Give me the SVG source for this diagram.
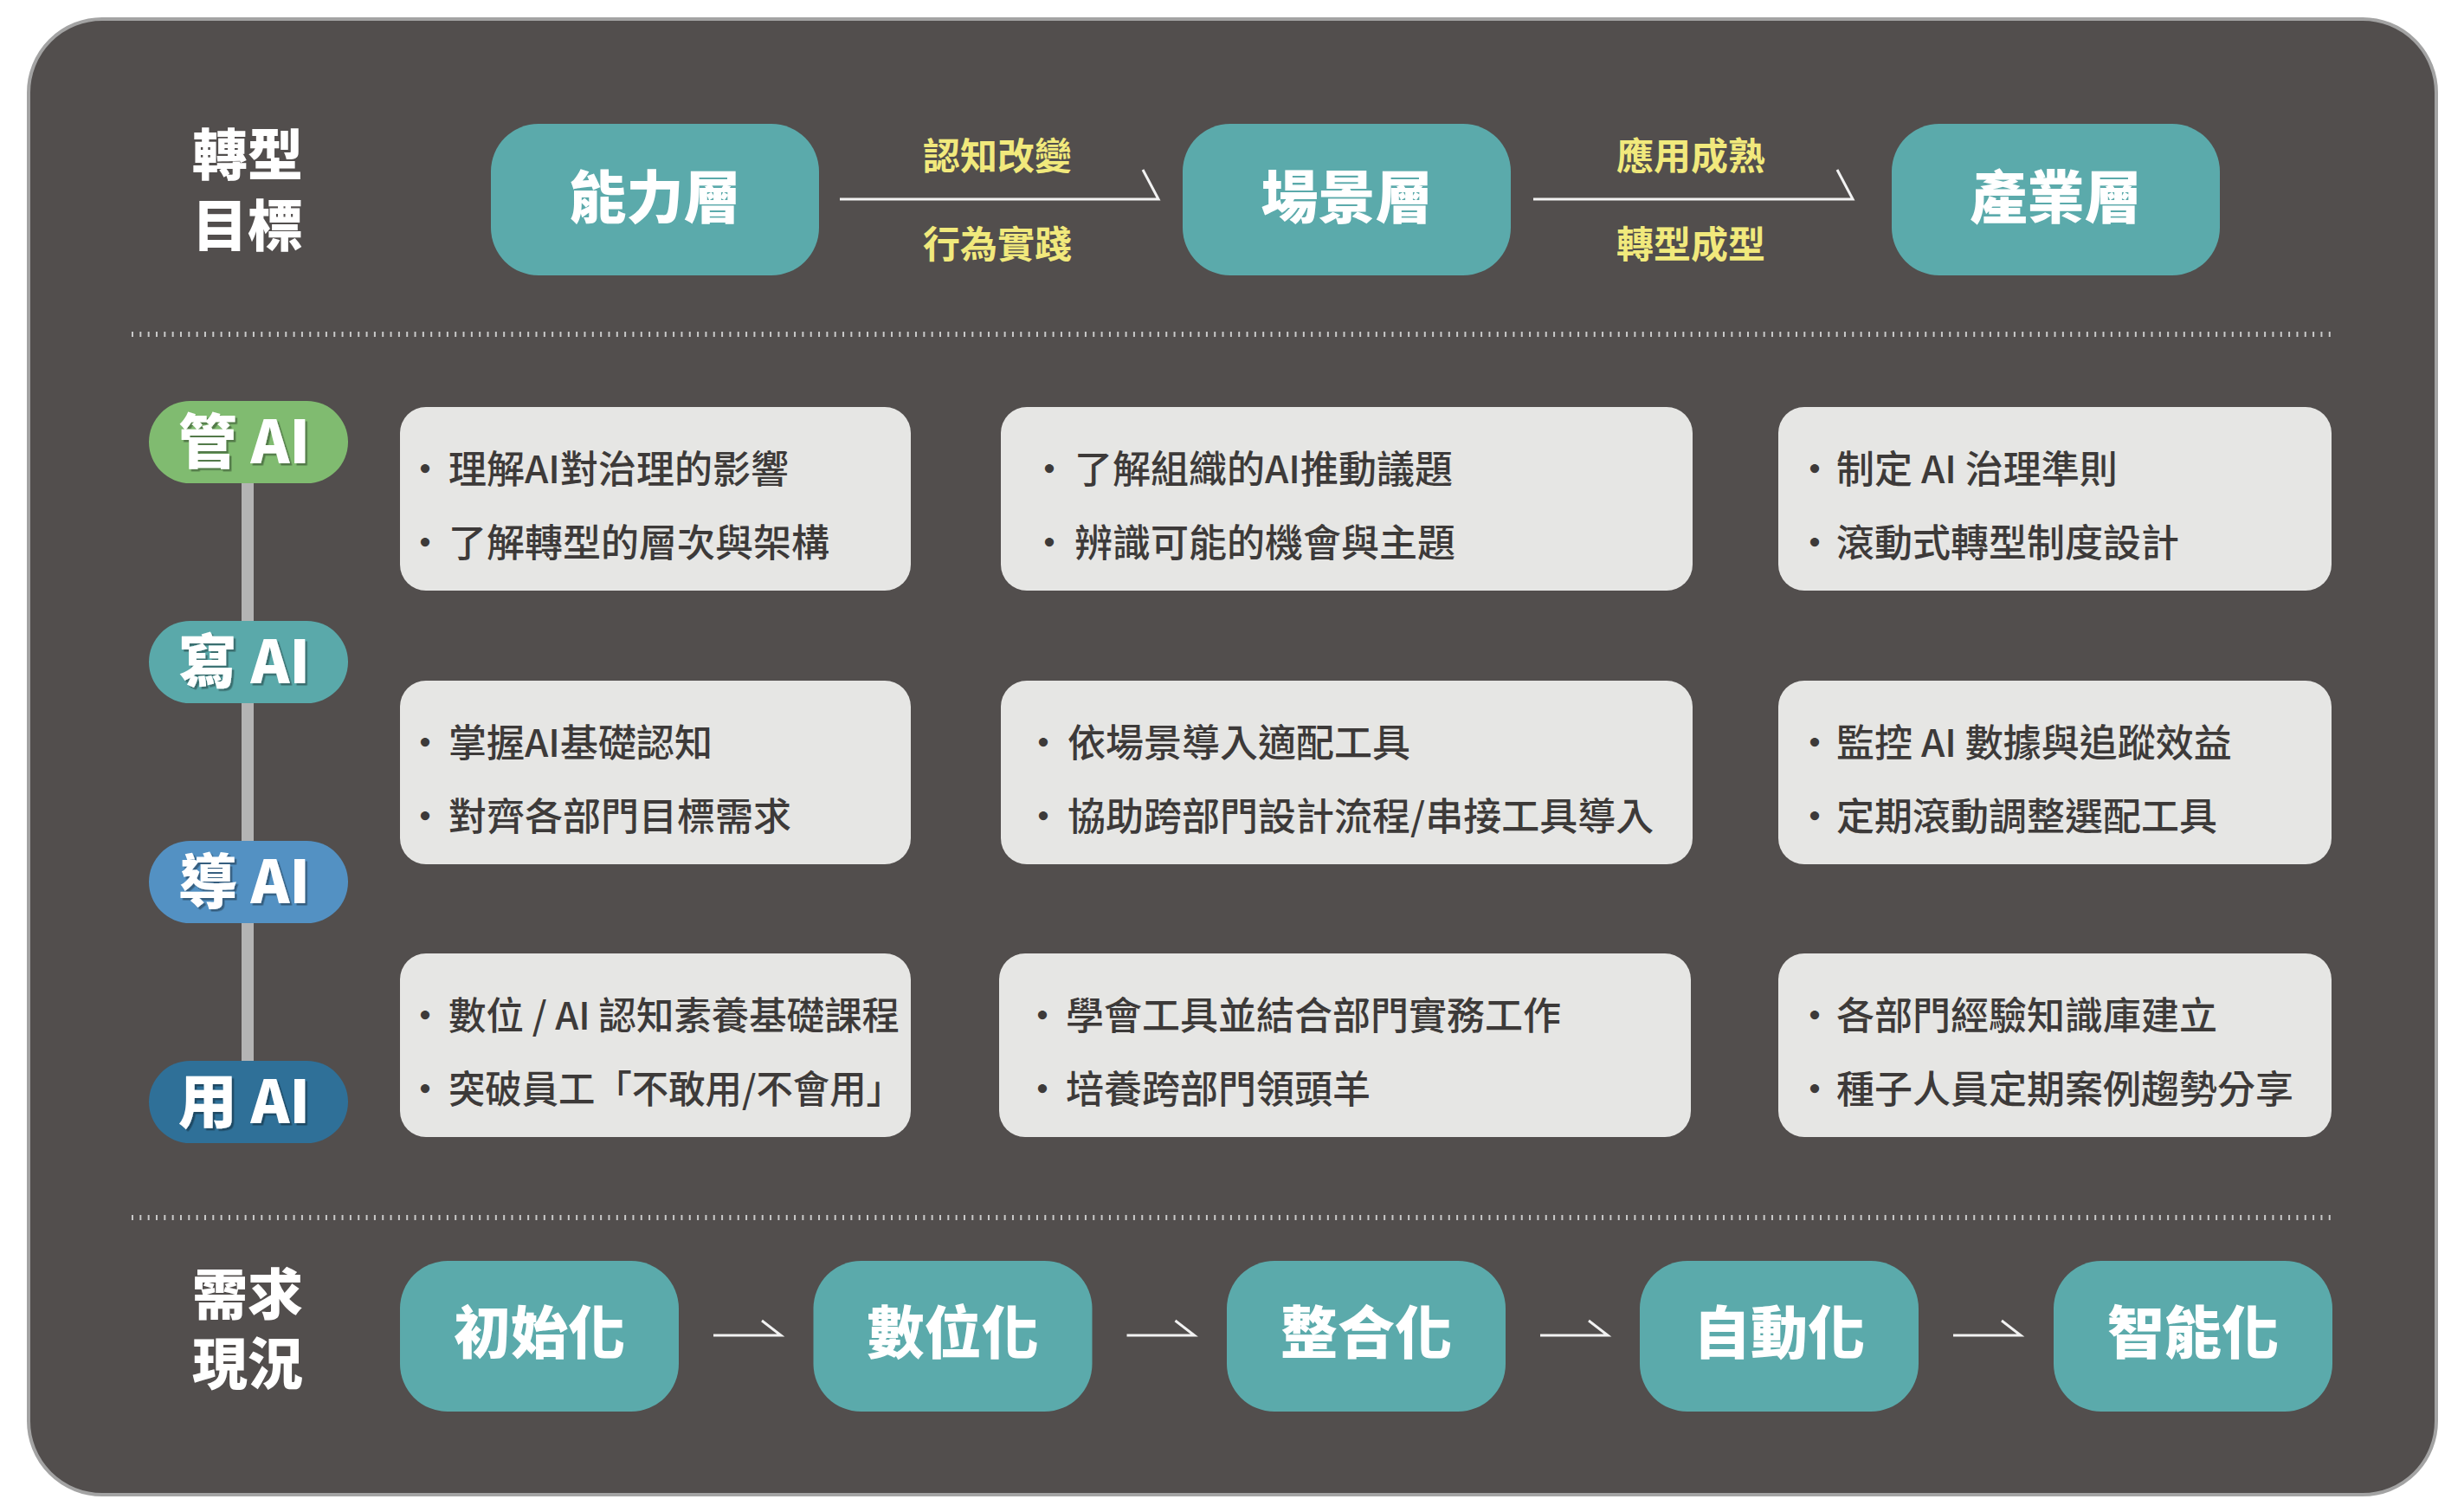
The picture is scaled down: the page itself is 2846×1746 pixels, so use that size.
<svg xmlns="http://www.w3.org/2000/svg" width="2846" height="1746" viewBox="0 0 2846 1746">
<style>
  .panel{fill:#524e4d;stroke:#a3a3a3;stroke-width:4}
  .tbox{fill:#5baaab}
  .card{fill:#e6e6e4}
  .hd{font-family:"Noto Sans CJK TC","Noto Sans CJK SC",sans-serif;font-weight:900;fill:#ffffff;text-anchor:middle}
  .lbl{font-family:"Noto Sans CJK TC","Noto Sans CJK SC",sans-serif;font-weight:700;font-size:43px;fill:#f1e97c;text-anchor:middle}
  .item{font-family:"Noto Sans CJK TC","Noto Sans CJK SC",sans-serif;font-weight:500;font-size:44px;fill:#3d3a39}
  .badge{font-family:"Noto Sans CJK TC","Noto Sans CJK SC",sans-serif;font-weight:900;font-size:68px;fill:#ffffff;text-anchor:middle}
  .arrow{fill:none;stroke:#f2f2f2;stroke-width:3;stroke-linejoin:miter}
  .sep{stroke:#c9c9c9;stroke-width:6;stroke-dasharray:2 7.33;fill:none}
</style>
<defs>
  <filter id="sh" x="-10%" y="-10%" width="130%" height="130%">
    <feDropShadow dx="2.5" dy="2.5" stdDeviation="0.5" flood-color="#000000" flood-opacity="0.35"/>
  </filter>
</defs>

<rect class="panel" x="33" y="22" width="2781" height="1704" rx="85" ry="85"/>

<g id="separators">
  <line class="sep" x1="152" y1="386" x2="2695" y2="386"/>
  <line class="sep" x1="152" y1="1406" x2="2695" y2="1406"/>
</g>

<g id="title-goal">
  <text class="hd" font-size="64"><tspan x="286" y="202">轉型</tspan><tspan x="286" y="284">目標</tspan></text>
</g>

<g id="title-need">
  <text class="hd" font-size="64"><tspan x="286" y="1518">需求</tspan><tspan x="286" y="1598">現況</tspan></text>
</g>

<g id="connectors">
  <path class="arrow" d="M970 230 H1338 L1320 196"/>
  <path class="arrow" d="M1771 230 H2140 L2122 196"/>
  <path class="arrow" d="M824 1542 H902 L880 1525"/>
  <path class="arrow" d="M1301.5 1542 H1379.5 L1357.5 1525"/>
  <path class="arrow" d="M1779 1542 H1857 L1835 1525"/>
  <path class="arrow" d="M2256 1542 H2334 L2312 1525"/>
  <line x1="286" y1="550" x2="286" y2="1230" stroke="#b4b4b4" stroke-width="14"/>
</g>

<g id="label-1">
  <text class="lbl" x="1152" y="196">認知改變</text>
  <text class="lbl" x="1152" y="298">行為實踐</text>
</g>
<g id="label-2">
  <text class="lbl" x="1953" y="196">應用成熟</text>
  <text class="lbl" x="1953" y="298">轉型成型</text>
</g>

<g id="node-capability">
  <rect class="tbox" x="567" y="143" width="379" height="175" rx="55"/>
  <text class="hd" x="756.5" y="252" font-size="66">能力層</text>
</g>
<g id="node-scenario">
  <rect class="tbox" x="1366" y="143" width="379" height="175" rx="55"/>
  <text class="hd" x="1555.5" y="252" font-size="66">場景層</text>
</g>
<g id="node-industry">
  <rect class="tbox" x="2185" y="143" width="379" height="175" rx="55"/>
  <text class="hd" x="2374.5" y="252" font-size="66">產業層</text>
</g>

<g id="badge-manage">
  <rect x="172" y="463" width="230" height="95" rx="47.5" fill="#80bb70"/>
  <text class="badge" x="282" y="535" filter="url(#sh)">管 AI</text>
</g>
<g id="badge-write">
  <rect x="172" y="717" width="230" height="95" rx="47.5" fill="#5aa9aa"/>
  <text class="badge" x="282" y="789" filter="url(#sh)">寫 AI</text>
</g>
<g id="badge-guide">
  <rect x="172" y="971" width="230" height="95" rx="47.5" fill="#5391c3"/>
  <text class="badge" x="282" y="1043" filter="url(#sh)">導 AI</text>
</g>
<g id="badge-use">
  <rect x="172" y="1225" width="230" height="95" rx="47.5" fill="#2f7098"/>
  <text class="badge" x="282" y="1297" filter="url(#sh)">用 AI</text>
</g>

<g id="card-r1c1">
  <rect class="card" x="462" y="470" width="590" height="212" rx="30"/>
  <text class="item" x="469" y="558">·<tspan dx="5">理解AI對治理的影響</tspan></text>
  <text class="item" x="469" y="643">·<tspan dx="5">了解轉型的層次與架構</tspan></text>
</g>
<g id="card-r1c2">
  <rect class="card" x="1156" y="470" width="799" height="212" rx="30"/>
  <text class="item" x="1190" y="558">·<tspan dx="7">了解組織的AI推動議題</tspan></text>
  <text class="item" x="1190" y="643">·<tspan dx="7">辨識可能的機會與主題</tspan></text>
</g>
<g id="card-r1c3">
  <rect class="card" x="2054" y="470" width="639" height="212" rx="30"/>
  <text class="item" x="2074" y="558">·<tspan dx="3">制定 AI 治理準則</tspan></text>
  <text class="item" x="2074" y="643">·<tspan dx="3">滾動式轉型制度設計</tspan></text>
</g>

<g id="card-r2c1">
  <rect class="card" x="462" y="786" width="590" height="212" rx="30"/>
  <text class="item" x="469" y="874">·<tspan dx="5">掌握AI基礎認知</tspan></text>
  <text class="item" x="469" y="959">·<tspan dx="5">對齊各部門目標需求</tspan></text>
</g>
<g id="card-r2c2">
  <rect class="card" x="1156" y="786" width="799" height="212" rx="30"/>
  <text class="item" x="1183" y="874">·<tspan dx="6">依場景導入適配工具</tspan></text>
  <text class="item" x="1183" y="959">·<tspan dx="6">協助跨部門設計流程/串接工具導入</tspan></text>
</g>
<g id="card-r2c3">
  <rect class="card" x="2054" y="786" width="639" height="212" rx="30"/>
  <text class="item" x="2074" y="874">·<tspan dx="3">監控 AI 數據與追蹤效益</tspan></text>
  <text class="item" x="2074" y="959">·<tspan dx="3">定期滾動調整選配工具</tspan></text>
</g>

<g id="card-r3c1">
  <rect class="card" x="462" y="1101" width="590" height="212" rx="30"/>
  <text class="item" x="469" y="1189">·<tspan dx="5" textLength="521" lengthAdjust="spacingAndGlyphs">數位 / AI 認知素養基礎課程</tspan></text>
  <text class="item" x="469" y="1274">·<tspan dx="5" textLength="525" lengthAdjust="spacingAndGlyphs">突破員工「不敢用/不會用」</tspan></text>
</g>
<g id="card-r3c2">
  <rect class="card" x="1154" y="1101" width="799" height="212" rx="30"/>
  <text class="item" x="1182" y="1189">·<tspan dx="5">學會工具並結合部門實務工作</tspan></text>
  <text class="item" x="1182" y="1274">·<tspan dx="5">培養跨部門領頭羊</tspan></text>
</g>
<g id="card-r3c3">
  <rect class="card" x="2054" y="1101" width="639" height="212" rx="30"/>
  <text class="item" x="2074" y="1189">·<tspan dx="3">各部門經驗知識庫建立</tspan></text>
  <text class="item" x="2074" y="1274">·<tspan dx="3">種子人員定期案例趨勢分享</tspan></text>
</g>

<g id="node-init">
  <rect class="tbox" x="462" y="1456" width="322" height="174" rx="55"/>
  <text class="hd" x="623" y="1563" font-size="66">初始化</text>
</g>
<g id="node-digital">
  <rect class="tbox" x="939.5" y="1456" width="322" height="174" rx="55"/>
  <text class="hd" x="1100.5" y="1563" font-size="66">數位化</text>
</g>
<g id="node-integrate">
  <rect class="tbox" x="1417" y="1456" width="322" height="174" rx="55"/>
  <text class="hd" x="1578" y="1563" font-size="66">整合化</text>
</g>
<g id="node-auto">
  <rect class="tbox" x="1894" y="1456" width="322" height="174" rx="55"/>
  <text class="hd" x="2055" y="1563" font-size="66">自動化</text>
</g>
<g id="node-smart">
  <rect class="tbox" x="2372" y="1456" width="322" height="174" rx="55"/>
  <text class="hd" x="2533" y="1563" font-size="66">智能化</text>
</g>
</svg>
